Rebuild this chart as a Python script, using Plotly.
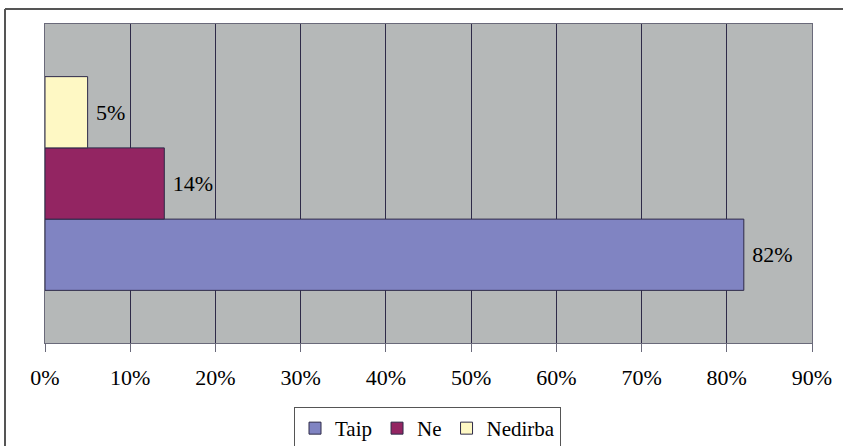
import plotly.graph_objects as go

categories = [""]
series_names = ["Taip", "Ne", "Nedirba"]
taip = [0.82]
ne = [0.14]
nedirba = [0.05]
tick_vals = [0, 0.1, 0.2, 0.3, 0.4, 0.5, 0.6, 0.7, 0.8, 0.9]
tick_text = ["0%", "10%", "20%", "30%", "40%", "50%", "60%", "70%", "80%", "90%"]

colors = ["#8084C2", "#932562", "#FEF8C4"]
serif = "Liberation Serif"

fig = go.Figure()
for name, vals, col in zip(series_names, [taip, ne, nedirba], colors):
    fig.add_trace(go.Bar(
        name=name, y=categories, x=vals, orientation="h",
        marker=dict(color=col, line=dict(color="#2e2a48", width=1)),
        text=[" " + f"{v:.0%}" for v in vals], textposition="outside",
        textfont=dict(family=serif, size=22, color="black"),
        cliponaxis=False,
    ))

W, H = 843, 446
L, R, T, B = 45, 31, 24, 103
pw, ph = W - L - R, H - T - B

def px(x):
    return (x - L) / pw

def py(y):
    return (H - B - y) / ph

fig.update_layout(
    width=W, height=H, barmode="group", bargap=0.33, bargroupgap=0,
    margin=dict(l=L, r=R, t=T, b=B, autoexpand=False),
    plot_bgcolor="#B5B8B8", paper_bgcolor="white",
    font=dict(family=serif, size=22, color="black"),
    legend=dict(orientation="h", x=px(427.5), xanchor="center", y=py(407), yanchor="top",
                bordercolor="#555555", borderwidth=1, font=dict(family=serif, size=21),
                itemwidth=30, traceorder="normal"),
    shapes=[
        dict(type="line", xref="paper", yref="paper", x0=px(5), x1=px(843), y0=py(9), y1=py(9),
             line=dict(color="#555555", width=2)),
        dict(type="line", xref="paper", yref="paper", x0=px(5), x1=px(5), y0=py(9), y1=py(446),
             line=dict(color="#555555", width=2)),
    ],
)
fig.update_xaxes(range=[0, 0.9], tickvals=tick_vals, ticktext=tick_text,
                 showgrid=True, gridcolor="#2e2a48", gridwidth=1,
                 ticks="outside", ticklen=8, tickcolor="#6a6a7a",
                 showline=True, linecolor="#6a6a7a", mirror=True, zeroline=False,
                 tickfont=dict(family=serif, size=22), ticklabelstandoff=7)
fig.update_yaxes(showticklabels=False, showline=True, linecolor="#6a6a7a", mirror=True,
                 showgrid=False, ticks="")

fig.write_html("out.html", config={"displayModeBar": False},
               post_script="document.body.style.margin='0';")
